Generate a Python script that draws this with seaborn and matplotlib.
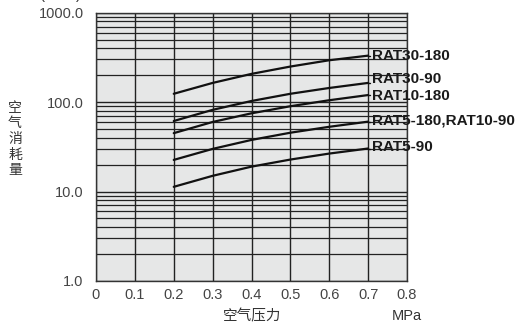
import matplotlib
matplotlib.use("Agg")
import matplotlib.pyplot as plt
import seaborn as sns
import pandas as pd
import numpy as np

# ---- data ----
pressure = [0.2, 0.3, 0.4, 0.5, 0.6, 0.7]
rat30_180 = [124, 164, 207, 250, 294, 331]
rat30_90 = [61.5, 82, 103, 124, 144, 164]
rat10_180 = [45, 60, 75, 90, 105, 120]
rat5_180_rat10_90 = [22.6, 30, 37.8, 45.5, 53, 60.5]
rat5_90 = [11.3, 15, 19, 22.8, 26.6, 30.3]
series_names = ["RAT30-180", "RAT30-90", "RAT10-180", "RAT5-180,RAT10-90", "RAT5-90"]
series_values = [rat30_180, rat30_90, rat10_180, rat5_180_rat10_90, rat5_90]
x_ticks = [0, 0.1, 0.2, 0.3, 0.4, 0.5, 0.6, 0.7, 0.8]
x_tick_labels = ["0", "0.1", "0.2", "0.3", "0.4", "0.5", "0.6", "0.7", "0.8"]
y_ticks = [1, 10, 100, 1000]
y_tick_labels = ["1.0", "10.0", "100.0", "1000.0"]
x_label = "空气压力"
x_unit = "MPa"
y_label = "空气消耗量"
y_unit = "L/min (ANR)"

rows = []
for name, vals in zip(series_names, series_values):
    for p, v in zip(pressure, vals):
        rows.append({"pressure": p, "flow": v, "series": name})
df = pd.DataFrame(rows)

sns.set_style("white")
plt.rcParams["font.family"] = ["Liberation Sans", "Noto Sans CJK SC", "DejaVu Sans"]

fig = plt.figure(figsize=(5.25, 3.24), dpi=100)
ax = fig.add_axes([96 / 525, 1 - 281 / 324, 311 / 525, (281 - 12.7) / 324])
ax.set_facecolor("#e6e7e7")

sns.lineplot(data=df, x="pressure", y="flow", hue="series", hue_order=series_names,
             palette=["#111111"] * len(series_names), linewidth=1.6, legend=False, ax=ax)

ax.set_yscale("log")
ax.set_xlim(0, 0.8)
ax.set_ylim(1, 1000)
ax.set_xticks(x_ticks, labels=x_tick_labels)
ax.set_yticks(y_ticks, labels=y_tick_labels)
ax.yaxis.set_minor_locator(matplotlib.ticker.LogLocator(base=10, subs=np.arange(2, 10)))
ax.yaxis.set_minor_formatter(matplotlib.ticker.NullFormatter())
ax.tick_params(axis="both", which="both", length=0, labelsize=10.5, labelcolor="#444444")
ax.tick_params(axis="y", pad=9)
ax.tick_params(axis="x", pad=5)
ax.grid(True, which="major", axis="both", color="#222222", linewidth=1.0)
ax.grid(True, which="minor", axis="y", color="#222222", linewidth=0.9)
ax.set_axisbelow(True)
for s in ax.spines.values():
    s.set_color("#333333")
    s.set_linewidth(1.0)
ax.set_xlabel("")
ax.set_ylabel("")

# series labels at the right end of each curve (small vertical nudges in points)
nudges = [0, 3, -0.5, 0.5, 1]
for name, vals, dy in zip(series_names, series_values, nudges):
    ax.annotate(name, xy=(pressure[-1], vals[-1]), xytext=(3, dy), textcoords="offset points",
                va="center", ha="left", fontsize=11, fontweight="bold", color="#1a1a1a")
    ax.plot([pressure[-1], pressure[-1] + 0.006], [vals[-1], vals[-1]], color="#111111", lw=1.0)

fig.text(252 / 525, 1 - 316 / 324, x_label, ha="center", va="center", fontsize=10.5, color="#333333")
fig.text(407 / 525, 1 - 316 / 324, x_unit, ha="center", va="center", fontsize=10.5, color="#333333")
for i, ch in enumerate(y_label):
    fig.text(15 / 525, 1 - (107.8 + 15.6 * i) / 324, ch, ha="center", va="center",
             fontsize=10, color="#333333")
fig.text(0.0, 1 + 1.5 / 324, y_unit, ha="left", va="baseline", fontsize=10.5, color="#333333")

fig.savefig("out.png", dpi=100)
